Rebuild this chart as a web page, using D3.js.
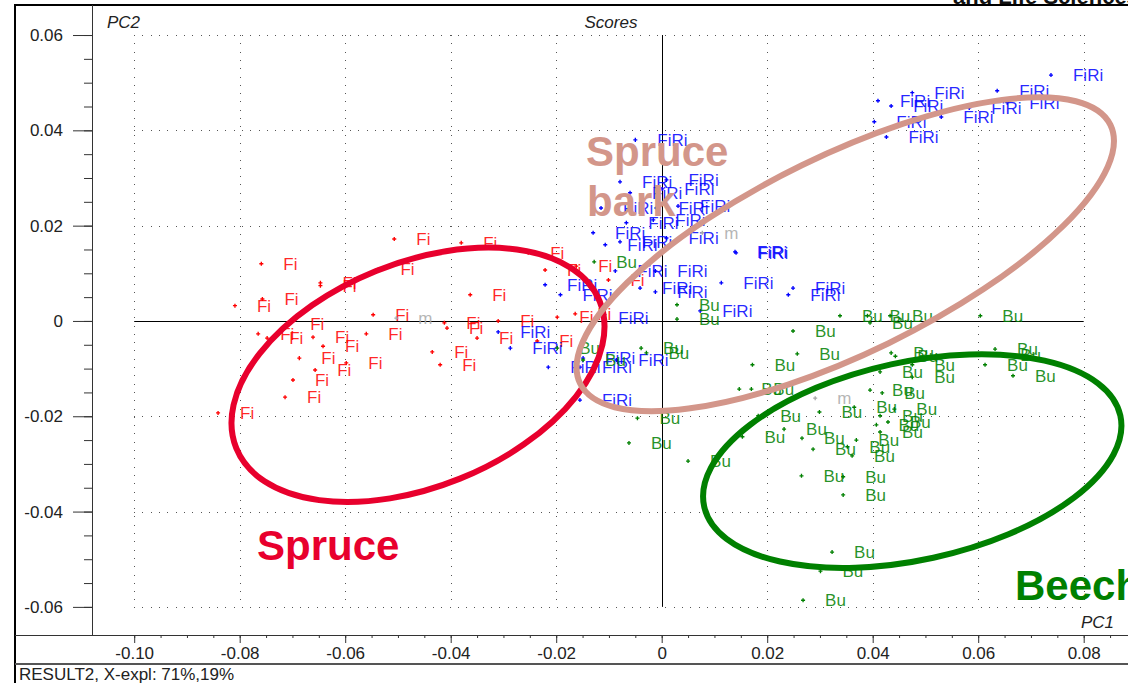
<!DOCTYPE html>
<html>
<head>
<meta charset="utf-8">
<script src="https://cdn.jsdelivr.net/npm/d3@7"></script>
<style>
  body { margin: 0; background: #fff; }
  svg { display: block; font-family: "Liberation Sans", Arial, sans-serif; }
</style>
</head>
<body>
<svg id="chart" width="1128" height="683"></svg>
<script>
// SCORES (PC1, PC2)
var fiScores = [
  [-0.0507, 0.0172], [-0.0380, 0.0164], [-0.0759, 0.0120], [-0.0537, 0.0109],
  [-0.0647, 0.0080], [-0.0647, 0.0074], [-0.0757, 0.0046], [-0.0809, 0.0032],
  [-0.0547, 0.0013], [-0.0708, -0.0006], [-0.0412, -0.0004], [-0.0407, -0.0015],
  [-0.0765, -0.0027], [-0.0748, -0.0036], [-0.0661, -0.0034], [-0.0560, -0.0027],
  [-0.0642, -0.0053], [-0.0435, -0.0065], [-0.0687, -0.0078], [-0.0598, -0.0088],
  [-0.0420, -0.0092], [-0.0657, -0.0103], [-0.0699, -0.0124], [-0.0714, -0.0160],
  [-0.0841, -0.0193], [-0.0363, 0.0055], [-0.0350, -0.0036], [-0.0253, 0.0143],
  [-0.0221, 0.0107], [-0.0162, 0.0115], [-0.0101, 0.0086], [-0.0310, 0.0000],
  [-0.0198, 0.0008], [-0.0164, 0.0015], [-0.0236, -0.0042]
];
var firiScores = [
  [0.0738, 0.0516], [0.0636, 0.0483], [0.0655, 0.0458], [0.0475, 0.0479],
  [0.0410, 0.0462], [0.0435, 0.0451], [0.0530, 0.0428], [0.0583, 0.0447],
  [0.0403, 0.0418], [0.0426, 0.0386], [-0.0050, 0.0380], [-0.0079, 0.0292],
  [0.0009, 0.0296], [0.0001, 0.0277], [-0.0060, 0.0269], [-0.0115, 0.0237],
  [-0.0010, 0.0237], [0.0031, 0.0241], [-0.0067, 0.0206], [-0.0016, 0.0212],
  [-0.0130, 0.0185], [-0.0107, 0.0160], [-0.0079, 0.0166], [0.0009, 0.0174],
  [-0.0088, 0.0105], [-0.0012, 0.0105], [0.0113, 0.0080], [0.0139, 0.0145],
  [0.0141, 0.0143], [0.0249, 0.0069], [0.0240, 0.0055], [-0.0041, 0.0069],
  [-0.0012, 0.0061], [0.0073, 0.0021], [-0.0221, 0.0076], [-0.0192, 0.0055],
  [-0.0124, 0.0006], [-0.0310, -0.0023], [-0.0287, -0.0057], [-0.0215, -0.0097],
  [-0.0155, -0.0097], [-0.0149, -0.0078], [-0.0086, -0.0082], [-0.0155, -0.0166]
];
var buScores = [
  [-0.0128, 0.0124], [0.0029, 0.0034], [0.0029, 0.0004], [-0.0198, -0.0057],
  [-0.0149, -0.0082], [-0.0039, -0.0057], [-0.0029, -0.0067], [-0.0046, -0.0204],
  [-0.0062, -0.0256], [0.0050, -0.0294], [0.0172, -0.0092], [0.0147, -0.0143],
  [0.0170, -0.0143], [0.0183, -0.0199], [0.0153, -0.0243], [0.0232, -0.0227],
  [0.0266, -0.0246], [0.0287, -0.0269], [0.0265, -0.0325], [0.0344, -0.0327],
  [0.0344, -0.0365], [0.0323, -0.0485], [0.0301, -0.0525], [0.0268, -0.0586],
  [0.0249, -0.0021], [0.0257, -0.0069], [0.0338, 0.0011], [0.0395, -0.0004],
  [0.0390, 0.0011], [0.0433, 0.0011], [0.0604, 0.0011], [0.0435, -0.0067],
  [0.0443, -0.0074], [0.0414, -0.0107], [0.0475, -0.0092], [0.0475, -0.0118],
  [0.0632, -0.0059], [0.0638, -0.0071], [0.0613, -0.0092], [0.0666, -0.0115],
  [0.0299, -0.0191], [0.0395, -0.0145], [0.0418, -0.0151], [0.0365, -0.0181],
  [0.0441, -0.0185], [0.0414, -0.0199], [0.0407, -0.0218], [0.0429, -0.0212],
  [0.0414, -0.0233], [0.0369, -0.0250], [0.0352, -0.0264], [0.0361, -0.0283]
];
var meanScores = [[-0.0503, 0.0006], [0.0077, 0.0185], [0.0291, -0.0162]];

// tick values and labels
var xTicks = [-0.10, -0.08, -0.06, -0.04, -0.02, 0, 0.02, 0.04, 0.06, 0.08];
var xTickLabels = ["-0.10", "-0.08", "-0.06", "-0.04", "-0.02", "0", "0.02", "0.04", "0.06", "0.08"];
var yTicks = [-0.06, -0.04, -0.02, 0, 0.02, 0.04, 0.06];
var yTickLabels = ["-0.06", "-0.04", "-0.02", "0", "0.02", "0.04", "0.06"];

// hand drawn group ellipses: centre in score units
var groupNames = ["Spruce", "Spruce bark", "Beech"];
var groupCentres = [[-0.0462, -0.0113], [0.0348, 0.0140], [0.0475, -0.0294]];


// Constants
var fontSize = 17;
var labelGap = 22; // dot to label distance
var colFi = "#ff0000", colFiRi = "#0000ff", colBu = "#008000", colMean = "#a8a8a8";
var colSpruce = "#e8002d", colBark = "#d3968a", colBeech = "#008000";

var svg = d3.select("#chart");
var width = +svg.attr("width");
var height = +svg.attr("height");

// plot box: inner frame from x=92 to the right edge, y=5 to 635
var x = d3.scaleLinear().domain([-0.108, 0.0884]).range([92, 1128]);
var y = d3.scaleLinear().domain([-0.0659, 0.0663]).range([635, 5]);

svg.append("defs").append("clipPath").attr("id", "plotclip")
  .append("rect").attr("x", 92).attr("y", 5).attr("width", width - 92).attr("height", 630);

// header text cut by the top border
svg.append("text").attr("x", 953).attr("y", 4)
  .attr("font-size", 22).attr("font-weight", "bold").attr("fill", "#111")
  .text("and Life Sciences");


//// GRID
var grid = svg.append("g")
  .attr("stroke", "#555")
  .attr("stroke-width", 1)
  .attr("stroke-dasharray", "1,7.3")
  .attr("shape-rendering", "crispEdges");

grid.selectAll(".hgrid").data(yTicks.filter(function (d) { return d !== 0; }))
  .enter().append("line")
  .attr("x1", x(-0.10)).attr("x2", x(0.08))
  .attr("y1", function (d) { return Math.round(y(d)) + 0.5; })
  .attr("y2", function (d) { return Math.round(y(d)) + 0.5; });

grid.selectAll(".vgrid").data(xTicks.filter(function (d) { return d !== 0; }))
  .enter().append("line")
  .attr("y1", y(0.06)).attr("y2", y(-0.06))
  .attr("x1", function (d) { return Math.round(x(d)) + 0.5; })
  .attr("x2", function (d) { return Math.round(x(d)) + 0.5; });

// zero lines
svg.append("line")
  .attr("x1", x(-0.10)).attr("x2", x(0.08))
  .attr("y1", Math.round(y(0)) + 0.5).attr("y2", Math.round(y(0)) + 0.5)
  .attr("stroke", "#000");
svg.append("line")
  .attr("x1", Math.round(x(0)) + 0.5).attr("x2", Math.round(x(0)) + 0.5)
  .attr("y1", y(0.06)).attr("y2", y(-0.06))
  .attr("stroke", "#000");


//// SCORES
var plot = svg.append("g").attr("clip-path", "url(#plotclip)");
var cross = d3.symbol().type(d3.symbolCross).size(9);

drawScores(fiScores, "Fi", colFi);
drawScores(firiScores, "FiRi", colFiRi);
drawScores(buScores, "Bu", colBu);
drawScores(meanScores, "m", colMean);

function drawScores(data, name, color) {
  var g = plot.append("g");
  g.selectAll("path").data(data).enter().append("path")
    .attr("d", cross)
    .attr("fill", color)
    .attr("transform", function (d) { return "translate(" + x(d[0]) + "," + y(d[1]) + ")"; });
  g.selectAll("text").data(data).enter().append("text")
    .attr("x", function (d) { return x(d[0]) + labelGap; })
    .attr("y", function (d) { return y(d[1]); })
    .attr("dy", "0.35em")
    .attr("font-size", fontSize)
    .attr("fill", color)
    .attr("fill-opacity", 0.85)
    .text(name);
}


//// GROUP ELLIPSES + NAMES
var ellipseShape = [
  { rx: 196, ry: 112, angle: -22, color: colSpruce },
  { rx: 295, ry: 99, angle: -26, color: colBark },
  { rx: 213, ry: 99, angle: -12.3, color: colBeech }
];

plot.selectAll(".group").data(groupCentres).enter().append("ellipse")
  .attr("rx", function (d, i) { return ellipseShape[i].rx; })
  .attr("ry", function (d, i) { return ellipseShape[i].ry; })
  .attr("transform", function (d, i) {
    return "translate(" + x(d[0]) + "," + y(d[1]) + ") rotate(" + ellipseShape[i].angle + ")";
  })
  .attr("fill", "none")
  .attr("stroke", function (d, i) { return ellipseShape[i].color; })
  .attr("stroke-width", 6);

var bigText = plot.append("g")
  .attr("font-size", 42)
  .attr("font-weight", "bold");

bigText.append("text").attr("x", 257).attr("y", 560).attr("fill", colSpruce).text(groupNames[0]);
var bark = bigText.append("text").attr("fill", colBark);
bark.append("tspan").attr("x", 586).attr("y", 166).text(groupNames[1].split(" ")[0]);
bark.append("tspan").attr("x", 587).attr("y", 216).text(groupNames[1].split(" ")[1]);
bigText.append("text").attr("x", 1015).attr("y", 600).attr("fill", colBeech).text(groupNames[2]);


//// AXES
var axisFont = function (g) {
  g.select(".domain").remove();
  g.selectAll("text").attr("font-size", fontSize).attr("fill", "#222")
    .attr("font-family", "'Liberation Sans', Arial, sans-serif");
  g.selectAll("line").attr("stroke", "#333");
};

svg.append("g")
  .attr("transform", "translate(0,635)")
  .call(d3.axisBottom(x).tickValues(d3.range(-20, 18).map(function (i) { return i * 0.005; }))
    .tickSize(3).tickFormat(""))
  .call(axisFont);
svg.append("g")
  .attr("transform", "translate(0,635)")
  .call(d3.axisBottom(x).tickValues(xTicks).tickSize(8).tickPadding(4)
    .tickFormat(function (d, i) { return xTickLabels[i]; }))
  .call(axisFont);

svg.append("g")
  .attr("transform", "translate(92,0)")
  .call(d3.axisLeft(y).tickValues(d3.range(-12, 13).map(function (i) { return i * 0.005; }))
    .tickSize(8).tickFormat(""))
  .call(axisFont);
svg.append("g")
  .attr("transform", "translate(92,0)")
  .call(d3.axisLeft(y).tickValues(yTicks).tickSize(19).tickPadding(10)
    .tickFormat(function (d, i) { return yTickLabels[i]; }))
  .call(axisFont);


//// FRAME
var frame = svg.append("g").attr("fill", "none").attr("shape-rendering", "crispEdges");
frame.append("line").attr("x1", 15).attr("x2", 15).attr("y1", 4).attr("y2", height).attr("stroke", "#000").attr("stroke-width", 2);
frame.append("line").attr("x1", 14).attr("x2", width).attr("y1", 5).attr("y2", 5).attr("stroke", "#000").attr("stroke-width", 2);
frame.append("line").attr("x1", 92.5).attr("x2", 92.5).attr("y1", 5).attr("y2", 635).attr("stroke", "#333");
frame.append("line").attr("x1", 15).attr("x2", width).attr("y1", 635.5).attr("y2", 635.5).attr("stroke", "#333").attr("stroke-width", 1.5);
frame.append("line").attr("x1", 15).attr("x2", width).attr("y1", 663.5).attr("y2", 663.5).attr("stroke", "#555").attr("stroke-width", 2);

// titles
var titles = svg.append("g").attr("font-size", fontSize).attr("fill", "#222").attr("font-style", "italic");
titles.append("text").attr("x", 107).attr("y", 28).text("PC2");
titles.append("text").attr("x", 611).attr("y", 28).attr("text-anchor", "middle").text("Scores");
titles.append("text").attr("x", 1081).attr("y", 628).text("PC1");

svg.append("text").attr("x", 19).attr("y", 680)
  .attr("font-size", fontSize).attr("fill", "#222")
  .text("RESULT2, X-expl: 71%,19%");
</script>
</body>
</html>
